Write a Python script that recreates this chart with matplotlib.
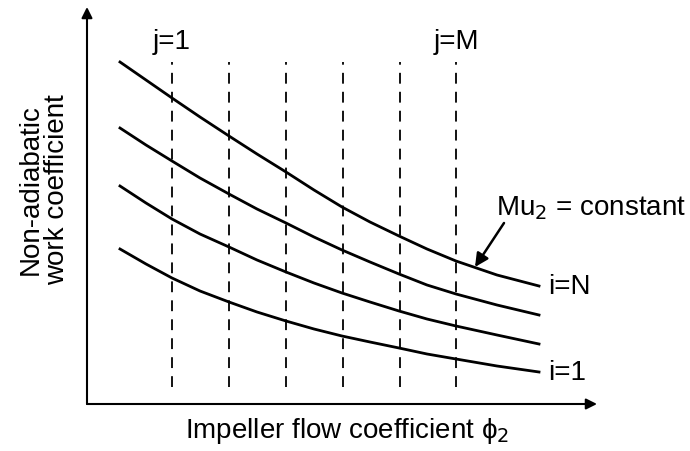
import numpy as np
import matplotlib.pyplot as plt

plt.rcParams['font.family'] = ['Liberation Sans', 'DejaVu Sans']

# flow coefficient positions where the curves were read (arbitrary units)
phi = [33, 59, 85, 113, 142, 170, 199, 227, 255, 283, 312, 340, 369, 410, 452]

# non-adiabatic work coefficient, one curve per i (bottom i=1 .. top i=N)
work_i1 = [155, 140, 126, 113, 102, 92, 83, 75, 68, 62, 56, 50, 45, 38, 32]
work_i2 = [218, 201, 185, 170, 157, 144, 132, 121, 111, 102, 93, 85, 78, 69, 60]
work_i3 = [276, 259, 243, 226, 210, 195, 181, 167, 154, 142, 130, 119, 110, 99, 89]
work_iN = [342, 324, 306, 287, 268, 250, 232, 214, 197, 182, 168, 155, 143, 129, 118]

# vertical grid j=1 .. j=M
phi_j = [85, 142, 199, 256, 313, 369]
j_labels = ['j=1', 'j=M']

fig = plt.figure(figsize=(6.9, 4.52), dpi=100)
ax = fig.add_axes([87 / 690, 47 / 452, 510 / 690, 397 / 452])
ax.set_xlim(0, 510)
ax.set_ylim(0, 397)
ax.axis('off')

# axes drawn as arrows
arrow = dict(arrowstyle='-|>', color='black', lw=1.5, mutation_scale=16,
             shrinkA=0, shrinkB=0)
ax.annotate('', xy=(1, 0), xytext=(0, 0), xycoords='axes fraction', arrowprops=arrow)
ax.annotate('', xy=(0, 1), xytext=(0, 0), xycoords='axes fraction', arrowprops=arrow)

# dashed j lines
for p in phi_j:
    ax.plot([p, p], [17, 342], color='black', lw=1.3, ls=(0, (6, 4.5)))

for w in [work_i1, work_i2, work_i3, work_iN]:
    ax.plot(phi, w, color='black', lw=2.0, solid_joinstyle='round')

fs = 20
ax.text(phi_j[0], 363, j_labels[0], ha='center', va='center', fontsize=fs)
ax.text(phi_j[-1], 363, j_labels[1], ha='center', va='center', fontsize=fs)
ax.text(phi[-1] + 9, work_iN[-1], 'i=N', ha='left', va='center', fontsize=fs)
ax.text(phi[-1] + 9, work_i1[-1], 'i=1', ha='left', va='center', fontsize=fs)

# Mu2 = constant label with its pointer
ax.text(409, 197, r'Mu$_2$ = constant', ha='left', va='center', fontsize=fs)
ax.annotate('', xy=(388, 137), xytext=(417, 181),
            arrowprops=dict(arrowstyle='-|>', color='black', lw=1.8,
                            mutation_scale=20, shrinkA=0, shrinkB=0))

fig.text(347 / 690, 1 - 431 / 452, 'Impeller flow coefficient \u03d5$_2$',
         ha='center', va='center', fontsize=fs)
fig.text(44 / 690, 1 - 190 / 452, 'Non-adiabatic\nwork coefficient',
         ha='center', va='center', fontsize=fs, rotation=90, linespacing=1.0)

fig.savefig('out.png', dpi=100)
